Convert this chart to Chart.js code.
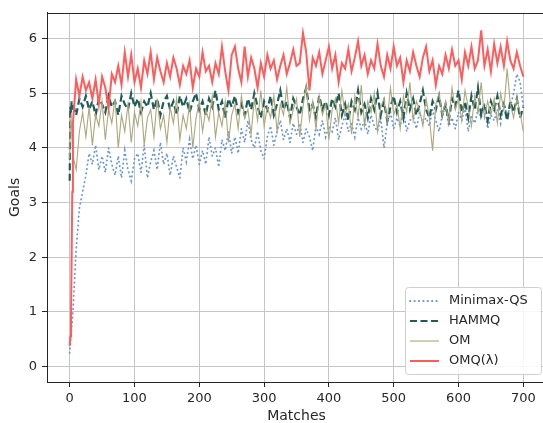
<!DOCTYPE html>
<html>
<head>
<meta charset="utf-8">
<script src="https://cdn.jsdelivr.net/npm/chart.js@4.4.1/dist/chart.umd.min.js"></script>
<style>
  html, body { margin: 0; padding: 0; overflow: hidden; background: #fff; }
  #wrap { position: absolute; left: 0; top: 0; width: 560px; height: 423px; }
</style>
</head>
<body>
<div id="wrap"><canvas id="goalsChart" width="560" height="423"></canvas></div>
<script>
// x positions: first few matches, then every 5th match
const matches = [0, 1, 2, 3, 4];
for (let m = 5; m <= 700; m += 5) matches.push(m);

const seriesNames = ['Minimax-QS', 'HAMMQ', 'OM', 'OMQ(\u03bb)'];
const xTicks = [0, 100, 200, 300, 400, 500, 600, 700];
const yTicks = [0, 1, 2, 3, 4, 5, 6];

// values (0..4, then 5, 10, ... 700)
const minimaxQS = [
  0.25, 0.4, 0.55, 0.7, 0.85,
  1.0, 2.15, 2.9, 3.2, 3.5, 3.9, 3.7, 4.05, 3.6, 3.85,
  3.55, 4.0, 3.7, 3.5, 3.85, 3.45, 3.95, 3.6, 3.4, 3.8,
  3.9, 3.55, 4.05, 3.45, 3.75, 3.95, 3.6, 4.1, 3.7, 3.9,
  3.5, 3.85, 3.65, 3.45, 4.0, 3.75, 4.15, 3.8, 4.05, 3.7,
  3.95, 3.7, 4.2, 3.85, 4.0, 3.65, 4.15, 3.95, 4.3, 3.9,
  4.2, 3.9, 4.35, 4.1, 4.5, 4.15, 4.0, 4.3, 3.95, 3.8,
  4.2, 4.4, 4.05, 4.3, 4.5, 4.15, 4.35, 4.1, 4.45, 4.25,
  4.45, 4.1, 4.35, 4.2, 3.95, 4.4, 4.25, 4.5, 4.2, 4.4,
  4.3, 4.55, 4.15, 4.4, 4.6, 4.3, 4.45, 4.2, 4.55, 4.35,
  4.5, 4.25, 4.6, 4.4, 4.3, 4.55, 4.0, 4.45, 4.65, 4.35,
  4.55, 4.4, 4.7, 4.3, 4.5, 4.6, 4.35, 4.65, 4.45, 4.55,
  4.4, 4.7, 4.5, 4.3, 4.6, 4.75, 4.4, 4.55, 4.35, 4.65,
  4.5, 4.75, 4.3, 4.6, 4.45, 4.7, 4.55, 4.8, 4.35, 4.6,
  4.5, 4.7, 4.45, 4.8, 4.6, 4.75, 5.0, 5.35, 5.2, 4.75
];
const hammq = [
  3.4, 4.75, 4.65, 4.85, 4.7,
  4.8, 4.6, 4.9, 4.75, 4.95, 4.7, 4.85, 4.6, 4.9, 4.8,
  4.65, 4.95, 4.75, 4.85, 4.6, 4.95, 4.8, 4.7, 5.0, 4.75,
  4.9, 4.65, 4.85, 4.75, 5.0, 4.7, 4.9, 4.6, 4.85, 4.95,
  4.7, 4.85, 4.6, 4.95, 4.75, 4.9, 4.65, 4.85, 5.0, 4.7,
  4.85, 4.6, 4.9, 4.75, 5.05, 4.7, 4.85, 4.55, 4.9, 4.75,
  4.95, 4.65, 4.8, 4.6, 4.9, 4.7, 5.0, 4.75, 4.55, 4.85,
  4.7, 4.95, 4.6, 4.8, 5.05, 4.7, 4.85, 4.55, 4.9, 4.75,
  4.6, 4.9, 5.1, 4.7, 4.8, 4.55, 4.95, 4.7, 4.85, 4.6,
  4.9, 4.75, 5.0, 4.6, 4.8, 4.5, 4.85, 4.7, 5.05, 4.65,
  4.8, 4.55, 4.9, 4.7, 5.0, 4.6, 4.85, 4.5, 4.75, 4.95,
  4.65, 4.85, 4.55, 5.0, 4.7, 4.9, 4.6, 4.8, 5.05, 4.7,
  4.55, 4.85, 4.7, 4.95, 4.6, 4.8, 4.5, 4.9, 4.75, 5.05,
  4.65, 4.85, 4.55, 4.95, 4.7, 5.1, 4.6, 4.8, 4.5, 4.85,
  4.7, 4.95, 4.6, 4.8, 4.5, 4.85, 4.65, 4.9, 4.55, 4.75
];
const om = [
  3.8, 4.5, 4.6, 4.35, 4.1,
  3.85, 3.6, 4.3, 4.65, 4.2, 4.75, 4.05, 4.6, 4.4, 4.85,
  4.15, 4.7, 4.45, 4.9, 4.0, 4.6, 4.3, 4.8, 4.1, 4.65,
  4.4, 4.85, 4.05, 4.55, 4.7, 4.2, 4.9, 4.35, 4.6, 4.1,
  4.75, 4.45, 4.9, 4.15, 4.6, 4.35, 4.8, 4.0, 4.55, 4.85,
  4.3, 4.7, 4.5, 4.95, 4.2, 4.65, 4.4, 4.85, 4.1, 4.6,
  4.8, 4.35, 4.95, 4.55, 4.7, 4.25, 4.9, 4.5, 5.05, 4.4,
  4.75, 4.55, 4.95, 4.3, 4.8, 4.6, 5.1, 4.45, 4.7, 4.9,
  4.2, 4.75, 5.15, 4.5, 4.85, 4.35, 4.95, 4.6, 4.8, 4.15,
  4.7, 4.9, 4.45, 5.05, 4.6, 4.8, 4.25, 4.95, 4.55, 5.15,
  4.4, 4.85, 4.65, 5.0, 4.3, 4.75, 4.9, 4.5, 5.1, 4.6,
  4.8, 4.35, 4.95, 4.65, 5.2, 4.5, 4.85, 4.7, 4.4, 4.9,
  4.55, 3.95, 4.8, 5.0, 4.6, 4.85, 4.45, 5.1, 4.7, 4.9,
  4.5, 5.05, 4.75, 4.4, 4.95, 4.65, 5.2, 4.55, 4.85, 4.6,
  4.9, 4.45, 5.0, 4.7, 5.45, 4.8, 4.55, 4.9, 4.65, 4.3
];
const omqLambda = [
  0.38, 0.55, 0.9, 2.0, 3.2,
  4.45, 5.25, 4.95, 5.3, 5.05, 5.2, 4.9, 5.25, 4.8, 5.3,
  5.1, 4.72, 5.35, 5.2, 5.5, 5.15, 5.75, 5.3, 5.7, 5.2,
  5.45, 5.1, 5.6, 5.35, 5.75, 5.25, 5.65, 5.4, 5.2, 5.55,
  5.3, 5.65, 5.45, 5.15, 5.5, 5.35, 5.6, 5.1, 5.45, 5.3,
  5.75, 5.4, 5.5, 5.2, 5.55, 5.35, 5.85, 5.4, 5.05, 5.7,
  5.85, 5.45, 5.2, 5.85, 5.3, 5.65, 5.45, 5.1, 5.55, 5.3,
  5.7, 5.45, 5.6, 5.25, 5.5, 5.7, 5.35, 5.55, 5.8, 5.5,
  5.55, 6.1, 5.75, 5.05, 5.65, 5.5, 5.75, 5.35, 5.6, 5.85,
  5.45, 5.7, 5.2, 5.55, 5.45, 5.8, 5.4, 5.65, 5.95, 5.5,
  5.7, 5.35, 5.6, 5.45, 5.9, 5.5, 5.3, 5.7, 5.45, 5.85,
  5.5, 5.65, 5.2, 5.6, 5.4, 5.75, 5.5, 5.3, 5.65, 5.85,
  5.4, 5.6, 5.15, 5.5, 5.35, 5.7, 5.45, 5.8, 5.5, 5.6,
  5.25, 5.75, 5.5, 5.85, 5.45, 5.6, 6.15, 5.5, 5.8, 5.4,
  5.9, 5.55, 5.85, 5.5, 5.95, 5.6, 5.45, 5.75, 5.5, 5.3
];

const toPoints = (vals) => matches.map((m, i) => ({ x: m, y: vals[i] }));
const fontFam = '"DejaVu Sans", sans-serif';
const inkColor = '#262626';

// top spine of the axes box (right one falls outside the picture)
const framePlugin = {
  id: 'frame',
  afterDatasetsDraw(chart) {
    const { ctx, chartArea: a } = chart;
    ctx.save();
    ctx.strokeStyle = inkColor;
    ctx.lineWidth = 1;
    ctx.beginPath();
    ctx.moveTo(a.left, Math.round(a.top) + 0.5);
    ctx.lineTo(a.right, Math.round(a.top) + 0.5);
    ctx.stroke();
    ctx.restore();
  }
};

// matplotlib-like legend box, lower right
const boxLegend = {
  id: 'boxLegend',
  afterDraw(chart) {
    const ctx = chart.ctx;
    const bx = 405.5, by = 287.5, bw = 136, bh = 87;
    ctx.save();
    ctx.beginPath();
    ctx.roundRect(bx, by, bw, bh, 3);
    ctx.fillStyle = 'rgba(255,255,255,0.85)';
    ctx.fill();
    ctx.strokeStyle = '#d0d0d0';
    ctx.lineWidth = 1;
    ctx.stroke();
    chart.data.datasets.forEach((ds, i) => {
      const y = 301 + i * 20;
      ctx.beginPath();
      ctx.setLineDash(ds.borderDash || []);
      ctx.lineCap = ds.borderCapStyle || 'butt';
      ctx.strokeStyle = ds.borderColor;
      ctx.lineWidth = ds.borderWidth;
      ctx.moveTo(410, y);
      ctx.lineTo(439, y);
      ctx.stroke();
      ctx.setLineDash([]);
      ctx.fillStyle = inkColor;
      ctx.font = '13px ' + fontFam;
      ctx.textBaseline = 'middle';
      ctx.fillText(ds.label, 449, y);
    });
    ctx.restore();
  }
};

const ctx = document.getElementById('goalsChart').getContext('2d');
new Chart(ctx, {
  type: 'line',
  data: {
    datasets: [
      { label: seriesNames[0], data: toPoints(minimaxQS), borderColor: '#6a97cf', borderWidth: 1.8,
        borderDash: [0.4, 4], borderCapStyle: 'round', order: 4 },
      { label: seriesNames[1], data: toPoints(hammq), borderColor: '#1f5c57', borderWidth: 2.2,
        borderDash: [7, 3.5], order: 3 },
      { label: seriesNames[2], data: toPoints(om), borderColor: '#aca77c', borderWidth: 1.1, order: 2 },
      { label: seriesNames[3], data: toPoints(omqLambda), borderColor: '#ff5c5c', borderWidth: 2, order: 1 }
    ]
  },
  options: {
    responsive: false,
    animation: false,
    devicePixelRatio: 1,
    layout: { padding: { left: 0, top: 10, right: 14, bottom: 0 } },
    elements: { point: { radius: 0 }, line: { tension: 0, fill: false } },
    plugins: { legend: { display: false }, tooltip: { enabled: false } },
    scales: {
      x: {
        type: 'linear', min: -35, max: 735,
        afterBuildTicks: (s) => { s.ticks = xTicks.map(v => ({ value: v })); },
        afterFit: (s) => { s.height = 41; },
        ticks: { color: inkColor, font: { size: 13, family: fontFam }, padding: 4, maxRotation: 0 },
        grid: { color: '#c6c6c6', lineWidth: 1, tickColor: inkColor, tickLength: 5 },
        border: { color: inkColor, width: 1 },
        title: { display: true, text: 'Matches', color: inkColor,
                 font: { size: 14, family: fontFam, lineHeight: 1 }, padding: { top: 0, bottom: 0 } }
      },
      y: {
        min: -0.28, max: 6.47,
        afterBuildTicks: (s) => { s.ticks = yTicks.map(v => ({ value: v })); },
        afterFit: (s) => { s.width = 47; },
        ticks: { color: inkColor, font: { size: 13, family: fontFam }, padding: 5 },
        grid: { color: '#c6c6c6', lineWidth: 1, tickColor: inkColor, tickLength: 5 },
        border: { color: inkColor, width: 1 },
        title: { display: true, text: 'Goals', color: inkColor,
                 font: { size: 14, family: fontFam, lineHeight: 1.2 }, padding: { top: 7, bottom: 0 } }
      }
    }
  },
  plugins: [framePlugin, boxLegend]
});
</script>
</body>
</html>
